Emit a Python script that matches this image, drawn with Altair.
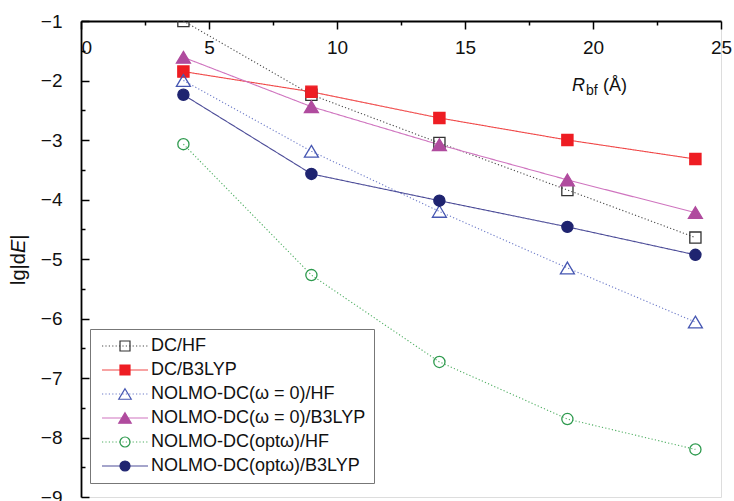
import altair as alt
import pandas as pd

# ---------------- data ----------------
r_bf = [4, 9, 14, 19, 24]
series = [
    "DC/HF",
    "DC/B3LYP",
    "NOLMO-DC(ω = 0)/HF",
    "NOLMO-DC(ω = 0)/B3LYP",
    "NOLMO-DC(optω)/HF",
    "NOLMO-DC(optω)/B3LYP",
]
dc_hf = [-1.00, -2.24, -3.05, -3.84, -4.64]
dc_b3lyp = [-1.85, -2.19, -2.63, -3.00, -3.32]
w0_hf = [-2.00, -3.19, -4.20, -5.15, -6.06]
w0_b3lyp = [-1.61, -2.44, -3.08, -3.67, -4.22]
opt_hf = [-3.07, -5.27, -6.73, -7.69, -8.20]
opt_b3lyp = [-2.24, -3.57, -4.02, -4.46, -4.93]
all_values = [dc_hf, dc_b3lyp, w0_hf, w0_b3lyp, opt_hf, opt_b3lyp]

x_major = [0, 5, 10, 15, 20, 25]
x_minor = [2.5, 7.5, 12.5, 17.5, 22.5]
y_major = [-1, -2, -3, -4, -5, -6, -7, -8, -9]
y_minor = [-1.5, -2.5, -3.5, -4.5, -5.5, -6.5, -7.5, -8.5]

y_title_parts = ["lg|d", "E", "|"]
x_title_parts = ["R", "bf", "(Å)"]

# ---------------- styles ----------------
line_colors = ["#4a4a4a", "#f04848", "#6c7ac8", "#cf74bf", "#4fae62", "#4c4c98"]
marker_stroke = ["#333333", "#ee1d23", "#4657b2", "#b04b9e", "#2e9a4e", "#1f2470"]
marker_fill = ["transparent", "#ee1d23", "transparent", "#b04b9e", "transparent", "#1f2470"]
TRI = "M0,-1.05L1.25,1.05L-1.25,1.05Z"
marker_shapes = ["square", "square", TRI, TRI, "circle", "circle"]
DOT = [1.2, 2.2]
SOLID = [1, 0]
dashes = [DOT, SOLID, DOT, SOLID, DOT, SOLID]

rows = []
for s, vals in zip(series, all_values):
    for x, v in zip(r_bf, vals):
        rows.append({"R": x, "lg": v, "series": s})
df = pd.DataFrame(rows)

W, H = 640, 476
FONT = "Liberation Sans"
TXT = "#111111"

x_scale = alt.Scale(domain=[0, 25], nice=False, zero=False)
y_scale = alt.Scale(domain=[-9, -1], nice=False, zero=False)

leg_common = dict(
    orient="none", legendX=9, legendY=308, title=None,
    symbolSize=100, symbolOffset=18, symbolStrokeWidth=1.2,
    labelFont=FONT, labelFontSize=18, labelColor=TXT, labelOffset=17,
    rowPadding=6, padding=8, symbolOpacity=1, labelLimit=400,
)
line_legend = alt.Legend(symbolType="M-4.6,0H4.6", strokeColor="#777777",
                         fillColor="white", **leg_common)
marker_legend = alt.Legend(labelOpacity=0, **leg_common)

x_main_axis = alt.Axis(
    orient="bottom", offset=-H, values=x_major, tickSize=8, tickWidth=1.5,
    tickColor="black", domainColor="black", domainWidth=1.8, grid=False,
    labelFont=FONT, labelFontSize=19, labelColor=TXT, labelPadding=9,
    labelBaseline="top",
    labelAlign={"condition": {"test": "datum.value === 0", "value": "left"}, "value": "center"},
    title=None, format="d",
)
x_minor_axis = alt.Axis(
    orient="bottom", offset=-H, values=x_minor, tickSize=4, tickWidth=1.5,
    tickColor="black", domain=False, labels=False, grid=False, title=None,
)
y_main_axis = alt.Axis(
    orient="left", values=y_major, ticks=False, tickSize=0,
    domainColor="black", domainWidth=1.8, grid=False,
    labelFont=FONT, labelFontSize=19, labelColor=TXT, labelPadding=19,
    title=None, format="d",
)
y_major_ticks = alt.Axis(
    orient="right", offset=-W, values=y_major, tickSize=8, tickWidth=1.5,
    tickColor="black", domain=False, labels=False, grid=False, title=None,
)
y_minor_ticks = alt.Axis(
    orient="right", offset=-W, values=y_minor, tickSize=4, tickWidth=1.5,
    tickColor="black", domain=False, labels=False, grid=False, title=None,
)

base = alt.Chart(df)

lines = base.mark_line(strokeWidth=1.1, clip=True).encode(
    x=alt.X("R:Q", scale=x_scale, axis=x_main_axis),
    y=alt.Y("lg:Q", scale=y_scale, axis=y_main_axis),
    stroke=alt.Stroke("series:N", scale=alt.Scale(domain=series, range=line_colors), legend=line_legend),
    strokeDash=alt.StrokeDash("series:N", scale=alt.Scale(domain=series, range=dashes), legend=line_legend),
    detail="series:N",
)

points = base.mark_point(size=125, strokeWidth=1.3, opacity=1, clip=True).encode(
    x=alt.X("R:Q", scale=x_scale, axis=x_minor_axis),
    y=alt.Y("lg:Q", scale=y_scale, axis=y_major_ticks),
    stroke=alt.Stroke("series:N", scale=alt.Scale(domain=series, range=marker_stroke), legend=marker_legend),
    fill=alt.Fill("series:N", scale=alt.Scale(domain=series, range=marker_fill), legend=marker_legend),
    shape=alt.Shape("series:N", scale=alt.Scale(domain=series, range=marker_shapes), legend=marker_legend),
)

ghost = base.mark_point(opacity=0).encode(
    x=alt.X("R:Q", scale=x_scale, axis=None),
    y=alt.Y("lg:Q", scale=y_scale, axis=y_minor_ticks),
)

# axis titles as text (mixed italic / subscript)
def txt(s, x, y, size, style="normal", angle=None, align="left", baseline="alphabetic"):
    kw = dict(font=FONT, fontSize=size, fontStyle=style, color=TXT, align=align, baseline=baseline)
    if angle is not None:
        kw["angle"] = angle
    return alt.Chart(pd.DataFrame({"t": [s]})).mark_text(**kw).encode(
        x=alt.value(x), y=alt.value(y), text="t:N")

yt1 = txt(y_title_parts[0], -62, 264, 20, angle=270, baseline="middle")
yt2 = txt(y_title_parts[1], -62, 232, 20, style="italic", angle=270, baseline="middle")
yt3 = txt(y_title_parts[2], -62, 218.7, 20, angle=270, baseline="middle")
xt1 = txt(x_title_parts[0], 491, 70, 18, style="italic")
xt2 = txt(x_title_parts[1], 505, 74, 14)
xt3 = txt(x_title_parts[2], 522, 70, 18)

chart = alt.layer(lines, points, ghost, yt1, yt2, yt3, xt1, xt2, xt3).resolve_scale(
    stroke="independent", strokeDash="independent", fill="independent", shape="independent"
).resolve_axis(x="independent", y="independent").properties(
    width=W, height=H,
    autosize=alt.AutoSizeParams(type="none"),
    padding={"left": 81, "top": 21, "right": 13, "bottom": 4},
).configure_view(stroke=None).configure(background="white")

chart.save("out.html", embed_options={"renderer": "svg", "actions": False})
